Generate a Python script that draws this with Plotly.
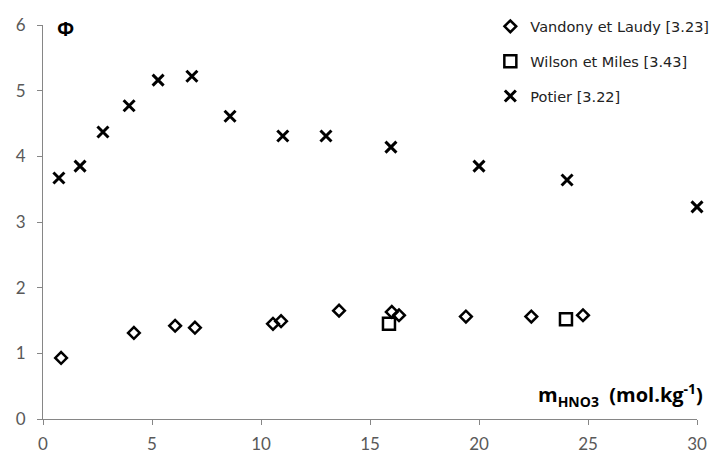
import plotly.graph_objects as go

# Data
vandony_x = [0.83, 4.17, 6.06, 6.97, 10.55, 10.92, 13.58, 16.0, 16.33, 19.4, 22.4, 24.77]
vandony_y = [0.93, 1.31, 1.42, 1.39, 1.45, 1.49, 1.65, 1.63, 1.58, 1.56, 1.56, 1.58]

wilson_x = [15.87, 23.99]
wilson_y = [1.45, 1.52]

potier_x = [0.73, 1.70, 2.75, 3.95, 5.28, 6.83, 8.58, 11.0, 12.98, 15.96, 20.0, 24.04, 30.0]
potier_y = [3.67, 3.85, 4.37, 4.77, 5.16, 5.22, 4.61, 4.31, 4.31, 4.14, 3.85, 3.64, 3.23]

x_ticks = [0, 5, 10, 15, 20, 25, 30]
y_ticks = [0, 1, 2, 3, 4, 5, 6]

fig = go.Figure()
fig.add_trace(go.Scatter(
    x=vandony_x, y=vandony_y, mode="markers", name="Vandony et Laudy [3.23]",
    legendgroup="a", cliponaxis=False,
    marker=dict(symbol="diamond-open", size=9, color="black", line=dict(width=2.5, color="black")),
))
fig.add_trace(go.Scatter(
    x=wilson_x, y=wilson_y, mode="markers", name="Wilson et Miles [3.43]",
    legendgroup="b", cliponaxis=False,
    marker=dict(symbol="square-open", size=12, color="black", line=dict(width=2.5, color="black")),
))
fig.add_trace(go.Scatter(
    x=potier_x, y=potier_y, mode="markers", name="Potier [3.22]",
    legendgroup="c", cliponaxis=False,
    marker=dict(symbol="x-thin", size=11, color="black", line=dict(width=3, color="black")),
))

axis_common = dict(
    showline=True, linecolor="#868686", linewidth=1,
    ticks="outside", ticklen=5, tickcolor="#868686", tickwidth=1,
    showgrid=False, zeroline=False, automargin=False,
    tickfont=dict(family="Lato", size=17, color="#595959"),
)

fig.update_layout(
    width=718, height=452,
    margin=dict(l=35, r=29, t=17, b=41, autoexpand=False),
    plot_bgcolor="white", paper_bgcolor="white",
    xaxis=dict(range=[0, 30], tickvals=x_ticks, ticklabelstandoff=5, **axis_common),
    yaxis=dict(range=[0, 6], tickvals=y_ticks, ticklabelstandoff=8, **axis_common),
    legend=dict(
        x=0.684, y=1.037, xanchor="left", yanchor="top",
        font=dict(family="DejaVu Sans", size=14.5, color="#222222"),
        tracegroupgap=13, bgcolor="rgba(0,0,0,0)",
    ),
    showlegend=True,
    annotations=[
        dict(text="<b>Φ</b>", x=0.0, y=1.0, xref="paper", yref="paper",
             xanchor="center", yanchor="middle", xshift=22, yshift=-3, showarrow=False,
             font=dict(family="Open Sans", size=20, color="black")),
        dict(text="<b>m<sub>HNO3</sub>  (mol.kg<sup>-1</sup>)</b>", x=1.0, y=0.0,
             xref="paper", yref="paper", xanchor="right", yanchor="bottom",
             xshift=8, yshift=6, showarrow=False,
             font=dict(family="Open Sans", size=20, color="black")),
    ],
)

fig.write_html("out.html")
